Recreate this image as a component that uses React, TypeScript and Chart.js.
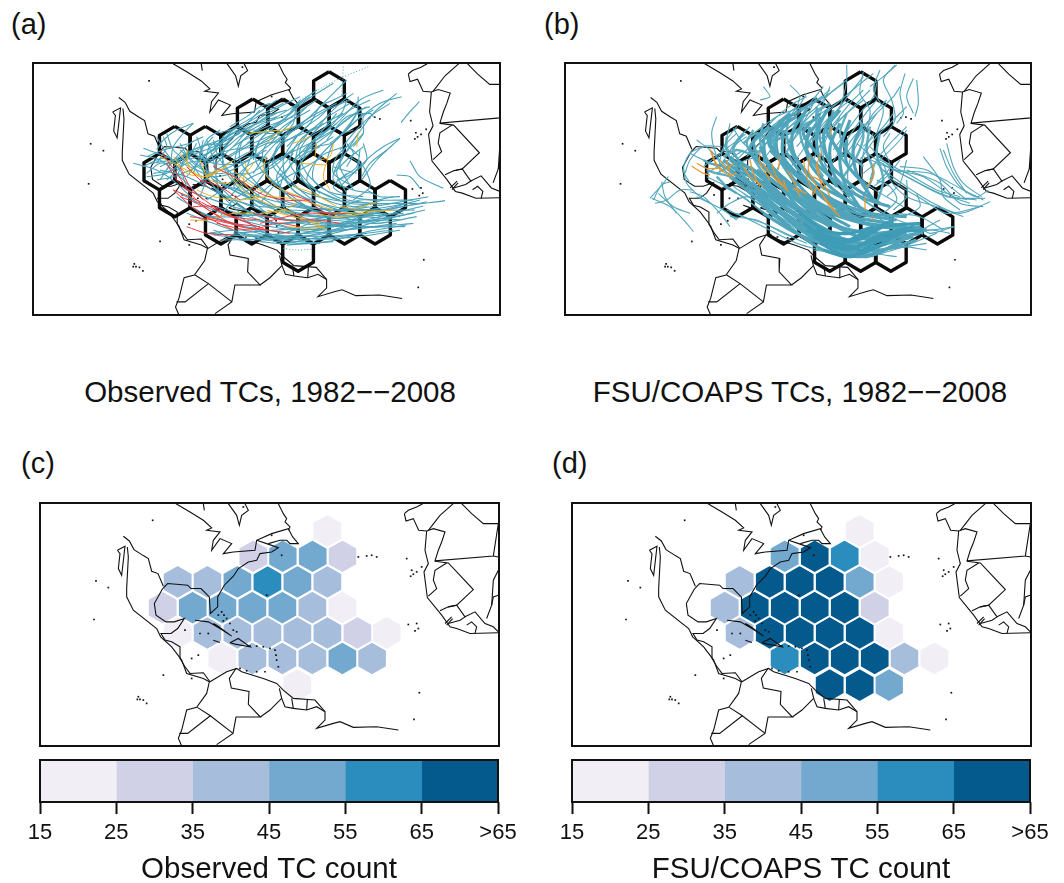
import React, { useEffect, useRef } from "react";
import { Chart, registerables } from "chart.js";

Chart.register(...registerables);

// ---------- colour bins ----------
const binLabels = ["15", "25", "35", "45", "55", "65", ">65"];
const binColors = ["#f1eef6", "#d0d1e6", "#a6bddb", "#74a9cf", "#2b8cbe", "#045a8d"];

// ---------- hex cells: [row, column position, bin] in map units ----------
const obsHexes = [
  [0, 982, 0],
  [1, 760, 1], [1, 848, 3], [1, 938, 3], [1, 1027, 1],
  [2, 533, 2], [2, 622, 2], [2, 712, 3], [2, 802, 4], [2, 892, 3], [2, 982, 2],
  [3, 488, 1], [3, 578, 3], [3, 667, 3], [3, 757, 3], [3, 847, 3], [3, 937, 2], [3, 1027, 0],
  [4, 533, 0], [4, 622, 2], [4, 712, 2], [4, 802, 2], [4, 892, 2], [4, 982, 2], [4, 1072, 1], [4, 1160, 0],
  [5, 667, 0], [5, 757, 2], [5, 847, 2], [5, 937, 2], [5, 1027, 3], [5, 1116, 2],
  [6, 892, 0],
];
const fsuHexes = [
  [0, 983, 0],
  [1, 758, 3], [1, 848, 5], [1, 938, 4], [1, 1028, 0],
  [2, 623, 2], [2, 713, 5], [2, 803, 5], [2, 893, 5], [2, 983, 3], [2, 1071, 0],
  [3, 578, 2], [3, 668, 5], [3, 758, 5], [3, 848, 5], [3, 938, 5], [3, 1028, 1],
  [4, 623, 2], [4, 713, 5], [4, 803, 5], [4, 893, 5], [4, 983, 5], [4, 1071, 0],
  [5, 758, 4], [5, 848, 5], [5, 938, 5], [5, 1028, 5], [5, 1117, 2], [5, 1207, 0],
  [6, 893, 5], [6, 983, 5], [6, 1071, 3],
];
const rowsOutline = [116, 195, 274, 353, 431, 510, 589];
const rowsFilled = [122, 198, 275, 352, 428, 505, 585];

// ---------- coast and borders, map units, flat x,y ----------
const coastLines = [
  [370,138,388,152,402,178,430,196,445,205,455,243,474,250,490,288],
  [488,295,503,280,563,285,573,295,603,295,628,320,631,370,653,350,653,320,673,285,700,258,715,235,745,215,770,210,780,190,815,185,835,172,800,160,770,150],
  [488,295,463,340,468,375,498,395,523,395,553,385,533,415,513,430,483,430,495,450,515,455,540,470,540,505,555,530,570,550,610,548,630,575,680,545,710,535,725,545,790,565,830,580,850,600,880,625,945,630,975,665,975,690,950,715,1000,700,1020,695,1060,712,1130,710,1195,720],
  [382,170,385,200,380,295,380,320,400,360,470,415,482,440,515,470,545,510,560,550,610,565,628,575,620,610,590,652,560,660,545,720,535,745,545,768],
  [352,180,375,168,365,255,355,235,360,190,352,180],
  [528,40,570,65,610,90,635,113,620,120,660,125,640,150,635,180,660,145,695,160,670,190,700,185,765,180,770,150,815,130,865,115,878,140,895,160,870,160,860,150,840,150,805,160],
  [610,40,613,60],
  [685,40,710,75,718,105,725,75,745,60,735,40],
  [835,40,850,70,860,85,855,95,870,110,865,120],
  [585,390,625,395,660,415,695,438,650,405,640,400],
  [690,458,715,445,750,470,705,462,690,458],
  [640,450,660,457],
  [708,535,688,565,694,594,747,604,745,643,781,681,708,681,699,730,650,764],
  [592,652,631,677,699,730],
  [538,730,563,730,631,677],
  [781,681,810,660,845,625,838,595],
  [845,625,855,650,880,655,920,660,950,650,975,665],
  [880,655,875,625],
  [920,660,922,628],
  [1213,70,1225,60,1250,50,1268,40],
  [1213,70,1218,92,1240,85,1256,120,1280,122,1300,115,1335,125,1325,155,1315,180,1305,212,1480,197,1495,100,1450,100,1415,70,1385,40],
  [1360,40,1320,75,1285,120],
  [1280,122,1275,180,1285,220,1272,245,1282,322,1325,375,1350,410,1370,415,1410,430,1495,428],
  [1305,213,1345,218,1420,298,1370,345,1345,350,1320,362],
  [1285,318,1310,295,1300,270,1305,240,1340,218],
  [1345,350,1370,345,1395,380,1380,390,1345,400],
  [1395,380,1425,365,1455,400,1480,410,1495,425],
  [1400,405,1415,395,1430,410,1425,430],
  [1495,240,1480,270,1475,345,1460,385],
  [1495,315,1480,320,1475,345],
  [1335,400,1355,380],
  [1340,405,1358,385],
  [1480,197,1495,200],
];
const islandDots = [
  665,365,672,375,680,385,690,400,700,420,710,425,655,375,670,392,
  750,468,770,468,790,470,810,475,825,480,828,495,830,510,835,530,
  720,535,740,542,770,545,795,545,
  1075,200,1100,197,1115,195,1130,200,1220,205,
  1235,240,1250,245,1265,230,1232,258,1240,252,
  1225,403,1250,400,1255,415,1245,422,
  415,620,430,630,440,640,420,628,412,628,
  288,272,325,292,282,388,458,90,1258,608,1242,688,
  730,50,815,135,845,195,800,315,555,420,600,430,625,430,595,495,575,505,
  575,565,490,555,
];

// ---------- panel (a) tracks, track units ----------
const obsTeal = [
  [1335,602,1180,625,1000,680,820,715,660,720],
  [1285,590,1150,615,1000,640,850,700,700,705],
  [1280,605,1120,640,950,690,800,720,640,705],
  [1270,618,1120,655,960,700,820,725],
  [1275,630,1150,660,1000,700,860,730,780,725],
  [1220,675,1100,695,980,725,860,735],
  [1240,640,1100,665,950,705,800,700,720,650],
  [1260,600,1100,640,940,650,800,620,700,560],
  [1225,610,1090,630,950,625,820,590,720,520],
  [1180,650,1050,670,900,690,780,660,650,620],
  [1200,690,1080,710,940,720,830,730],
  [1210,640,1040,650,900,640,760,600,640,540],
  [1190,670,1040,690,900,700,740,680,600,640],
  [1130,640,1000,650,860,660,700,620,560,570],
  [1100,620,980,630,880,600,830,530,880,460],
  [1150,600,1060,620,960,590,900,520,930,440,1010,370],
  [1090,590,1000,580,940,540,950,480,1030,400,1090,340],
  [1060,560,1000,520,1010,470,1060,420,1120,340,1190,280],
  [1170,660,1060,660,960,620,870,560,850,480,890,410],
  [1140,680,1000,690,860,680,720,620,640,560],
  [1100,700,960,715,830,710,720,690,620,700],
  [820,470,860,410,930,350,990,290,1040,240],
  [760,480,780,420,850,360,920,300,1000,250],
  [700,500,720,430,800,370,880,320,950,270],
  [660,470,700,410,770,360,840,320,900,290],
  [640,450,680,400,760,350,830,300],
  [900,480,940,420,1010,370,1080,300,1150,270],
  [980,480,1000,430,1060,370,1140,310,1205,290],
  [1060,520,1110,470,1150,440,1200,415],
  [1085,530,1110,490,1160,450],
  [1060,440,1090,400,1090,350,1120,330],
  [1040,390,1070,340,1075,290],
  [940,400,980,350,1020,310,1060,280],
  [880,420,930,370,960,320,1000,300,1040,280],
  [830,430,880,370,890,320,930,290],
  [740,430,800,390,860,350,890,310],
  [720,410,790,370,870,340,900,300],
  [650,400,720,380,790,340,850,310],
  [420,465,480,480,540,530,600,590],
  [400,490,470,510,530,550,590,610],
  [430,445,500,470,570,500,640,530,700,520],
  [440,530,500,520,570,470,640,440,720,400],
  [470,410,500,460,540,510,560,560],
  [500,400,520,450,580,500,620,560],
  [580,370,530,390,490,420,470,450],
  [450,490,520,480,600,470,680,430],
  [470,540,520,530,590,500,640,460,690,400],
  [590,410,610,470,620,530,600,590],
  [540,430,570,480,610,510,670,520,750,480],
  [620,420,640,480,650,540,660,600],
  [640,500,700,440,780,400,840,390],
  [560,450,640,490,720,490,800,450],
  [700,560,740,500,770,440,830,400],
  [800,530,810,480,850,430,900,400],
  [880,540,900,490,940,450,1000,410],
  [620,600,680,560,740,500,800,470],
  [660,650,700,600,760,560,800,510],
  [720,600,780,580,860,510],
  [860,640,840,590,850,530,900,470,960,440],
  [960,580,920,540,960,470,1030,440],
  [1203,368,1230,335,1258,305],
  [1085,540,1130,480,1200,415],
  [1230,482,1260,530,1330,565],
  [1190,525,1230,530,1260,565],
  [980,420,1040,350,1110,340,1120,350],
  [1080,470,1040,440,1020,500,1060,570],
  [1000,520,1040,480,1090,440],
  [1040,580,1010,520,1030,470,1075,400],
  [1120,580,1060,570,1000,540,1020,480,1090,400],
  [1215,680,1100,680,950,670,800,650,700,640],
  [1180,690,1040,705,900,710,770,710,630,700],
  [1170,630,1040,630,900,620,740,580,640,540],
  [1245,630,1130,630,1000,620,890,580,840,520],
  [500,540,560,490,620,480,680,470,760,420],
  [610,500,670,450,730,400,800,350,860,330],
  [760,520,800,460,860,400,950,340,1010,310],
  [1240,600,1130,600,1050,590,1000,560,1040,520],
  [1250,610,1120,610,1000,600,900,570,820,500,830,440],
  [1200,650,1060,640,940,600,860,530,820,470,860,400],
  [1150,660,1020,670,880,650,760,590,680,510,660,440],
  [1120,680,980,670,850,630,740,560,660,480,640,420],
  [1090,660,950,650,820,620,700,570,600,500,540,450],
  [1050,680,900,670,780,630,660,580,560,530,480,510],
  [1000,700,880,690,760,670,640,630,540,580],
  [960,730,850,720,730,700,640,670,560,640],
  [900,720,800,700,700,670,610,640,530,590],
  [1180,610,1050,610,930,560,870,490,900,420,970,370],
  [1110,610,1010,590,920,520,900,450,960,380,1030,340],
  [1020,600,950,570,890,500,900,430,970,360,1050,310],
  [960,640,880,600,800,520,790,450,850,380,930,330],
  [920,620,840,560,770,490,780,420,860,360,950,300],
  [860,620,780,560,720,480,730,420,800,380,880,350],
  [800,640,730,580,670,500,680,430,750,380,830,340],
  [760,650,680,580,620,510,630,440,700,400],
  [720,640,650,570,600,490,620,420,660,390],
  [560,530,610,470,680,420,750,380,830,350],
  [520,500,580,450,660,420,730,380],
  [480,500,540,470,600,440,660,430],
  [440,470,490,450,530,440,570,430],
  [460,520,520,510,560,480,590,430],
  [760,470,830,420,900,380,980,330,1050,300],
  [840,480,900,430,980,380,1050,330,1110,300],
  [780,520,850,470,930,430,1000,390,1080,330],
  [920,450,990,400,1050,350,1100,320],
  [1020,450,1060,400,1110,350,1170,310],
  [690,470,760,430,830,400,910,370],
  [630,470,690,450,760,440,830,410],
  [600,550,650,510,720,470,800,430],
  [680,600,740,540,820,500,880,450],
  [780,610,830,550,900,510,970,470],
  [1020,560,1060,520,1100,480,1090,430],
  [1060,600,1110,560,1090,500,1050,470],
  [990,430,1030,400,1060,390],
  [1030,530,1070,500,1080,450],
  [1100,650,990,640,880,620,780,620,700,600],
  [1160,640,1020,640,860,630,720,650,620,650],
  [1240,670,1120,680,960,680,830,690,700,700],
  [1250,650,1130,670,980,660,860,670,740,660],
  [1200,660,1080,650,960,660,840,670],
  [920,720,820,715,720,720,640,690],
  [1000,725,900,730,800,720,720,700],
  [480,540,510,490,520,440,550,400,580,370],
  [470,490,500,440,490,410],
  [440,520,480,490,520,490,560,460],
  [430,500,470,480,510,470],
  [500,510,530,470,570,430,610,410],
  [530,530,560,470,610,440,640,410],
  [580,520,600,460,610,420],
  [600,480,650,440,700,400,740,390],
  [650,440,700,390,740,370,780,330],
  [690,380,740,350,780,320,810,310],
  [810,430,860,380,900,340,920,320],
  [860,440,920,380,960,350,990,320],
  [880,480,920,440,960,400,1010,340],
  [950,420,1000,370,1030,330,1040,300],
  [1010,420,1050,370,1080,330,1110,320],
  [700,440,750,390,800,400,850,400],
  [800,430,860,420,910,400,950,380],
  [640,520,690,500,740,470,790,470],
  [700,520,750,520,800,490,850,470],
  [860,510,900,460,950,440,1000,430],
  [1040,500,1060,460,1040,430],
  [1010,540,1040,530,1070,510,1080,480],
  [1000,500,1030,510,1070,520],
  [1030,620,1080,600,1130,600,1180,590],
  [1100,570,1140,590,1200,590],
];
const obsDotted = [
  [1030,200,1028,240,1025,290],
  [900,300,1010,240,1105,200],
  [850,745,890,750,935,748],
];
const obsYellow = [
  [560,450,570,510,620,530,680,500],
  [540,460,600,530,650,510],
  [900,490,975,495],
  [985,470,970,530,990,570],
  [800,470,790,510,830,560,900,590],
  [950,430,945,470],
  [735,490,745,520],
  [590,570,640,590,720,600,800,590,900,600,1000,630],
  [1000,640,1100,635,1180,630],
  [690,530,740,580,800,610,880,640,960,680,980,690],
  [740,400,800,395,840,390],
  [880,430,930,410],
  [1075,395,1070,440],
  [570,660,620,660,700,640,760,640],
  [660,510,700,530,730,560],
  [480,470,520,490,600,530],
  [520,470,560,520,610,530],
  [600,480,630,540,690,550],
  [700,510,760,560,820,590],
  [760,490,730,540,770,590],
  [940,640,1020,650,1120,635],
  [860,680,930,685,975,680],
  [800,630,880,650,960,670],
  [1020,620,1070,625,1130,605],
  [880,560,940,580,1010,620],
  [800,430,830,400,880,380],
  [960,480,990,470,1000,430],
  [620,530,660,510,700,480],
  [780,640,850,630,890,610],
];
const obsRed = [
  [480,450,530,520,580,590,640,640,720,680,800,690,870,700],
  [520,570,590,600,650,630,720,660,800,690],
  [560,500,590,530,620,560],
  [520,570,600,640,700,690],
  [540,590,590,610,660,650],
  [640,500,720,540,780,580,850,600,930,600],
  [860,580,920,600,980,640,1040,640],
  [780,670,860,650,920,640,1000,640],
  [620,650,700,670,780,680],
  [570,650,640,660,730,680],
  [560,680,620,700,700,705],
  [550,560,600,590,670,640,750,670],
  [580,620,640,620,700,650,780,660],
  [600,540,660,560,720,600],
  [760,640,850,660,950,660,1020,670],
  [650,670,750,690,830,670,900,680],
  [500,490,530,540,560,570],
  [540,500,570,560,610,600],
];

// ---------- panel (b) tracks, track units ----------
const fsuDense = [
  [1180,690,1080,700,980,740,900,740],
  [1170,670,1060,680,960,720,860,700],
  [1150,680,1040,710,950,750,850,710],
  [1130,690,1030,730,960,770,870,730],
  [1110,700,1020,750,950,770,880,750],
  [1090,660,1000,700,920,730,830,690],
  [1060,680,980,720,900,720,820,670],
  [1030,680,960,700,880,690,800,630],
  [1070,730,1000,750,930,730,860,690],
];
const fsuHeavy = [
  [1170,680,1040,700,920,680,800,630,700,560],
  [1130,700,1000,730,900,700,780,630,690,550],
  [1100,720,980,755,880,720,780,660,680,590],
  [1050,740,960,770,860,720,760,640,650,560],
  [1180,700,1080,670,960,650,850,600,750,530],
  [1160,720,1050,750,940,740,830,670,720,590],
  [1100,660,980,640,880,590,790,520,720,450],
  [1040,650,950,600,860,550,800,480,780,420],
  [1020,700,930,680,820,600,730,510,690,440],
  [980,620,900,560,840,490,830,420,860,370],
  [960,590,910,520,900,440,930,370],
  [1000,760,900,740,800,680,730,620],
  [900,640,820,570,750,480,740,410,780,360],
  [860,640,770,560,690,490,670,430],
  [820,640,730,570,640,510,600,470],
  [1010,560,950,490,950,420],
  [760,600,680,540,620,510,580,480],
  [800,520,720,440,720,400,800,350],
  [870,470,820,400,870,340],
  [940,470,890,390,930,330],
  [1190,690,1050,680,930,650,810,600,700,520],
  [1170,700,1020,720,900,670,800,600,710,500],
  [1150,710,1020,740,900,720,780,650,670,570],
  [1130,680,1010,670,890,630,790,560,700,480],
  [1120,720,1010,770,900,740,800,700,700,640],
  [1090,740,990,770,880,750,790,690,710,630],
  [1070,700,960,720,860,680,760,590,660,500],
  [1040,720,940,750,840,700,740,620,640,530],
  [1010,730,920,720,830,650,760,570,680,510],
  [1130,650,1020,640,910,600,830,540,770,460],
  [1080,620,990,590,900,530,830,450,840,380],
  [1050,610,970,560,900,490,880,410,900,350],
  [990,660,900,610,820,540,760,470,760,390],
  [960,680,870,630,790,560,710,480,700,420],
  [930,710,840,660,760,590,680,520,620,480],
  [900,680,820,630,740,580,660,520,600,480],
  [880,700,800,650,720,590,640,540,590,500],
  [850,690,760,620,680,560,620,530],
  [780,680,720,630,650,570,600,530],
  [1030,600,980,520,970,440,1000,370],
  [1000,640,940,540,930,450,960,360],
  [920,560,870,480,860,400,890,330],
  [850,540,790,460,790,390,830,330],
  [780,500,720,430,740,380,780,340],
  [700,500,660,450,680,410,720,380],
];
const fsuUpper = [
  [1000,500,950,450,930,400,950,340],
  [960,510,920,450,900,390,910,330],
  [920,520,880,450,860,380,860,320],
  [880,530,830,460,810,390,830,320],
  [840,530,790,470,770,400,780,340],
  [800,560,750,480,730,420,750,360],
  [760,560,710,490,690,420,700,370],
  [720,550,680,490,650,430,670,390],
  [680,560,640,500,610,450,640,400],
  [650,540,610,490,590,450,590,410],
  [1000,590,1030,520,1010,450,1020,380],
  [1040,610,1060,540,1040,460,1050,400],
  [940,530,980,470,1000,410,990,360],
  [620,530,580,500,540,490,520,480],
  [640,560,600,530,560,520,530,510],
  [620,580,590,560,570,540,560,530],
  [800,400,830,370,880,350,900,320],
  [850,420,870,380,860,340,900,310],
  [700,420,740,390,780,400,830,370],
  [640,430,680,400,720,420,770,410],
  [580,470,620,450,660,460,700,450],
];
const fsuTeal = [
  [1275,680,1190,690,1080,670,950,640,800,590],
  [1365,595,1250,590,1130,530,1040,480,980,430],
  [1360,600,1300,570,1200,520,1100,510,1000,470],
  [1380,605,1290,640,1210,610,1130,560,1060,510],
  [1350,620,1250,640,1180,600,1100,550,1040,490],
  [1320,610,1230,580,1150,540,1080,500,1020,440],
  [1300,650,1220,620,1130,590,1080,540,1060,490],
  [1375,570,1340,590,1290,560,1250,500,1230,445],
  [1355,590,1300,550,1270,500,1250,430],
  [1290,630,1240,590,1230,540,1180,470],
  [1160,240,1165,310,1155,350],
  [1125,220,1110,280,1120,340,1100,370],
  [1095,195,1060,240,1085,300,1095,360,1060,410],
  [1050,210,1030,270,1060,330,1040,400],
  [1000,215,990,280,1020,330,1010,400],
  [950,195,950,240,940,290,920,340,880,400],
  [1150,235,1130,290,1150,340],
  [900,260,880,310,860,380,830,450],
  [860,290,830,350,800,400,770,460],
  [830,280,800,330,760,380,720,440],
  [780,255,810,290,780,350,730,400,680,470],
  [720,430,780,380,850,330,900,280,950,240],
  [690,450,760,380,830,320,880,260],
  [650,470,720,400,790,340,870,300,940,250],
  [660,440,730,360,790,310,830,290],
  [800,440,860,370,910,320,980,260,1030,220],
  [860,450,910,380,970,320,1020,270],
  [900,500,950,420,1000,350,1040,300],
  [930,470,980,400,1040,340,1090,290,1110,260],
  [1000,440,1060,380,1090,340],
  [1020,540,1040,480,1090,420,1130,380],
  [1040,550,1080,500,1060,440,1080,400],
  [620,380,590,420,570,480,570,520],
  [560,350,545,400,560,470,590,520],
  [500,420,540,450,590,500,640,530],
  [480,460,520,480,580,510,650,560,700,600],
  [465,520,480,480,520,440,575,440],
  [460,500,470,550,510,590,540,610],
  [520,440,480,460,460,510,480,550],
  [600,370,590,440,640,490,700,520],
  [610,385,640,430,680,460],
  [640,450,580,490,530,520],
  [360,595,400,550,415,530],
  [365,595,420,620,470,670,490,695],
  [385,580,430,620,480,640],
  [375,610,410,600,450,570,490,570],
  [395,545,405,590,440,640],
  [370,600,395,555,420,545],
  [480,575,520,590,570,640,600,680],
  [500,590,540,610,580,630,620,660],
  [590,630,640,650,700,670,790,710],
  [600,650,680,660,760,700,830,730],
  [620,640,700,680,800,730,870,750],
  [560,640,600,610,650,590,720,610],
  [700,600,770,650,860,710,950,760],
  [850,750,930,760,1030,770],
  [1100,770,1040,760,960,720],
  [1220,700,1120,740,1020,770],
  [1190,730,1090,745,980,760],
  [1230,660,1150,700,1050,720],
  [1270,680,1200,700,1170,680],
  [1240,690,1170,650,1100,640],
  [1090,510,1180,530,1270,590,1340,600],
  [1060,640,960,560,960,480,1000,400,1040,340],
  [1120,620,1000,540,1000,460,1030,400],
  [740,510,790,420,860,350,920,310],
  [770,520,840,420,900,350,960,300],
  [620,480,690,410,750,360,800,320],
  [700,480,760,400,820,340,860,300],
  [840,500,880,420,940,350,1000,300],
  [1090,680,990,620,900,530,880,440,930,350],
  [1190,690,1080,650,960,570,880,480,870,390],
  [700,260,720,290,690,300],
  [1100,195,1060,230,1020,260],
  [1060,640,1100,600,1080,560,1040,540],
  [690,420,730,380,800,340,860,300,900,270],
  [670,400,740,350,790,330,830,320],
  [720,390,780,350,840,310,900,280],
  [760,440,810,380,860,330,900,310],
  [830,450,880,380,930,320,960,280,1000,230],
  [870,420,920,360,960,310,1000,270],
  [910,450,960,380,990,340,1030,290,1040,250],
  [950,460,1000,390,1030,340,1070,300],
  [990,480,1040,410,1080,370,1130,320],
  [1000,520,1060,470,1110,420,1130,390],
  [1030,560,1070,530,1110,480],
  [1070,590,1110,550,1130,480],
  [1090,630,1130,590,1130,540],
  [1120,650,1170,620,1160,580],
  [590,470,620,420,660,380],
  [570,500,610,440,650,410],
  [560,480,590,430,620,400],
  [520,500,570,460,610,430,650,400],
  [560,520,620,490,680,470],
  [600,530,660,560,720,610,790,660],
  [610,560,670,600,740,650,820,700],
  [640,580,700,620,780,670,850,720],
  [580,560,640,590,700,640,760,680],
  [530,530,590,560,650,600,720,650],
  [1110,500,1190,510,1260,560,1310,600],
  [1130,510,1230,550,1290,610,1360,620],
  [1050,480,1130,520,1220,570,1290,590],
  [1240,450,1270,520,1310,580],
  [1260,700,1200,690,1130,710],
  [1190,750,1120,740,1050,750],
  [1130,740,1060,750,1000,745],
];
const fsuOrange = [
  [485,498,520,520,540,525],
  [545,455,555,485,580,515],
  [590,480,600,520,605,535],
  [660,480,670,520,690,560],
  [690,455,690,490,720,540],
  [725,490,740,530,775,575],
  [750,470,745,510],
  [840,470,835,510,860,560],
  [875,455,860,500,870,540,880,570],
  [860,490,870,520],
  [860,560,890,600,920,640],
  [830,580,790,565],
  [905,380,900,405],
  [1030,490,1030,530,1010,560],
  [1005,590,1005,630],
  [1025,650,1030,660],
  [500,490,530,505,570,505],
  [570,480,590,505,610,490],
  [570,510,600,525,620,520],
  [640,500,660,530,700,560],
  [700,490,720,520,760,560],
  [770,510,790,540,810,590],
  [820,480,830,530,850,580],
  [850,530,880,550,900,590],
  [880,590,900,620,930,650],
  [860,560,850,585],
  [760,540,770,570],
  [540,450,560,500],
];

// ---------- helpers ----------
const toPoints = (flat: number[]) => {
  const out: { x: number; y: number }[] = [];
  for (let i = 0; i < flat.length; i += 2) out.push({ x: flat[i], y: flat[i + 1] });
  return out;
};
const hexOutline = (cx: number, cy: number, s: number) => {
  const w = 44.7;
  return [
    { x: cx, y: cy - s }, { x: cx + w, y: cy - s / 2 }, { x: cx + w, y: cy + s / 2 },
    { x: cx, y: cy + s }, { x: cx - w, y: cy + s / 2 }, { x: cx - w, y: cy - s / 2 },
    { x: cx, y: cy - s },
  ];
};
const lineSet = (flat: number[], color: string, width: number, axes: "map" | "track", extra: any = {}) => ({
  data: toPoints(flat),
  showLine: true,
  borderColor: color,
  borderWidth: width,
  pointRadius: 0,
  tension: axes === "track" ? 0.3 : 0,
  xAxisID: axes === "map" ? "x" : "tx",
  yAxisID: axes === "map" ? "y" : "ty",
  ...extra,
});
const framePlugin = {
  id: "frame",
  afterDatasetsDraw(chart: any) {
    const { ctx, chartArea: a } = chart;
    ctx.save();
    ctx.strokeStyle = "#111";
    ctx.lineWidth = 2;
    ctx.strokeRect(a.left, a.top, a.right - a.left, a.bottom - a.top);
    ctx.restore();
  },
};

type PanelKind = "a" | "b" | "c" | "d";
const coastSets = () => [
  ...coastLines.map((c) => lineSet(c, "#111", 1.1, "map")),
  {
    data: toPoints(islandDots), showLine: false, pointRadius: 1.2, pointStyle: "rect",
    pointBackgroundColor: "#111", pointBorderWidth: 0, xAxisID: "x", yAxisID: "y",
  },
];
const outlineSets = (cells: number[][]) =>
  cells.map(([r, u]) => ({
    data: hexOutline(u, rowsOutline[r], 52.5), showLine: true, borderColor: "#0a0a0a", borderWidth: 3.4,
    borderJoinStyle: "round", pointRadius: 0, tension: 0, xAxisID: "x", yAxisID: "y",
  }));
const filledSets = (cells: number[][]) =>
  cells.map(([r, u, b]) => ({
    data: hexOutline(u, rowsFilled[r], 51), showLine: true, fill: "shape", backgroundColor: binColors[b],
    borderColor: "#fff", borderWidth: 2, pointRadius: 0, tension: 0, xAxisID: "x", yAxisID: "y",
  }));

// first listed = drawn on top
const panelDatasets = (k: PanelKind): any[] => {
  if (k === "a") {
    return [
      ...obsRed.map((t) => lineSet(t, "#ee3a3f", 1, "track")),
      ...obsYellow.map((t) => lineSet(t, "#f0b323", 1, "track")),
      ...obsTeal.map((t) => lineSet(t, "#4aa3ba", 1.1, "track")),
      ...obsDotted.map((t) => lineSet(t, "#4aa3ba", 1, "track", { borderDash: [1, 2] })),
      ...outlineSets(obsHexes),
      ...coastSets(),
    ];
  }
  if (k === "b") {
    return [
      ...fsuOrange.map((t) => lineSet(t, "#e8962e", 1.2, "track")),
      ...fsuDense.map((t) => lineSet(t, "#3f9cb7", 3.2, "track")),
      ...fsuTeal.map((t) => lineSet(t, "#52a6bc", 1.1, "track")),
      ...fsuHeavy.map((t) => lineSet(t, "#4fa3ba", 3.2, "track")),
      ...fsuUpper.map((t) => lineSet(t, "#5faec2", 2.4, "track")),
      ...outlineSets(fsuHexes),
      ...coastSets(),
    ];
  }
  return [...coastSets(), ...filledSets(k === "c" ? obsHexes : fsuHexes)];
};

const panelRange: Record<PanelKind, number[]> = {
  a: [120, 1480, 99, 1500],
  b: [120, 1480, 105, 1503],
  c: [120, 1497, 120, 1497],
  d: [120, 1497, 120, 1497],
};

function MapPanel({ kind, left, top, width, height }: { kind: PanelKind; left: number; top: number; width: number; height: number }) {
  const ref = useRef<HTMLCanvasElement>(null);
  useEffect(() => {
    const [x0, x1, t0, t1] = panelRange[kind];
    const hide = { display: false };
    const chart = new Chart(ref.current!, {
      type: "scatter",
      data: { datasets: panelDatasets(kind) },
      options: {
        animation: false,
        responsive: false,
        devicePixelRatio: 1,
        events: [],
        layout: { padding: 1, autoPadding: false },
        plugins: { legend: hide, title: hide, tooltip: { enabled: false } },
        scales: {
          x: { type: "linear", display: false, min: x0, max: x1 },
          y: { type: "linear", display: false, min: 38, max: 768, reverse: true },
          tx: { type: "linear", display: false, axis: "x", min: t0, max: t1 },
          ty: { type: "linear", display: false, axis: "y", min: 189, max: 945, reverse: true },
        },
      } as any,
      plugins: [framePlugin],
    });
    return () => chart.destroy();
  }, [kind]);
  return <canvas ref={ref} width={width} height={height} style={{ position: "absolute", left, top, width, height, display: "block" }} />;
}

function ColorBar({ left, top, title }: { left: number; top: number; title: string }) {
  const ref = useRef<HTMLCanvasElement>(null);
  useEffect(() => {
    const chart = new Chart(ref.current!, {
      type: "bar",
      data: {
        labels: ["count"],
        datasets: binColors.map((c, i) => ({
          data: [[i, i + 1]],
          backgroundColor: c,
          borderWidth: 0,
          barPercentage: 1,
          categoryPercentage: 1,
          grouped: false,
        })),
      } as any,
      options: {
        indexAxis: "y",
        animation: false,
        responsive: false,
        devicePixelRatio: 1,
        events: [],
        layout: { padding: { left: 40, right: 32, top: 10, bottom: 0 } },
        plugins: { legend: { display: false }, tooltip: { enabled: false } },
        scales: {
          y: { display: false },
          x: {
            type: "linear",
            min: 0,
            max: 6,
            afterFit: (s: any) => { s.height = 91; },
            grid: { drawOnChartArea: false, tickColor: "#111", tickWidth: 2, tickLength: 12, drawTicks: true },
            border: { display: false },
            ticks: {
              stepSize: 1,
              autoSkip: false,
              maxRotation: 0,
              color: "#111",
              padding: 6,
              font: { family: "'Liberation Sans'", size: 22 },
              callback: (v: any) => binLabels[v],
            },
            title: {
              display: true,
              text: title,
              color: "#111",
              padding: { top: 2, bottom: 5 },
              font: { family: "'Liberation Sans'", size: 29.5 },
            },
          },
        },
      } as any,
      plugins: [framePlugin],
    });
    return () => chart.destroy();
  }, [title]);
  return <canvas ref={ref} width={530} height={143} style={{ position: "absolute", left, top, width: 530, height: 143, display: "block" }} />;
}

const Label = ({ x, y, size, children, center }: any) => (
  <div style={{
    position: "absolute", left: x, top: y, fontSize: size, lineHeight: `${size + 4}px`, color: "#111",
    fontFamily: "'Liberation Sans'", whiteSpace: "nowrap", transform: center ? "translateX(-50%)" : undefined,
  }}>{children}</div>
);

export default function App() {
  return (
    <div style={{ position: "absolute", left: 0, top: 0, width: 1064, height: 883, overflow: "hidden", background: "#fff" }}>
      <Label x={11} y={8} size={29}>(a)</Label>
      <Label x={544} y={8} size={29}>(b)</Label>
      <Label x={21} y={447} size={29}>(c)</Label>
      <Label x={552} y={447} size={29}>(d)</Label>
      <Label x={270} y={375} size={29.5} center>Observed TCs, 1982−−2008</Label>
      <Label x={800} y={375} size={29.5} center>FSU/COAPS TCs, 1982−−2008</Label>
      <MapPanel kind="a" left={32} top={62} width={469} height={254} />
      <MapPanel kind="b" left={564} top={62} width={468} height={254} />
      <MapPanel kind="c" left={39} top={502} width={461} height={245} />
      <MapPanel kind="d" left={571} top={502} width={461} height={245} />
      <ColorBar left={0} top={750} title="Observed TC count" />
      <ColorBar left={532} top={750} title="FSU/COAPS TC count" />
    </div>
  );
}
